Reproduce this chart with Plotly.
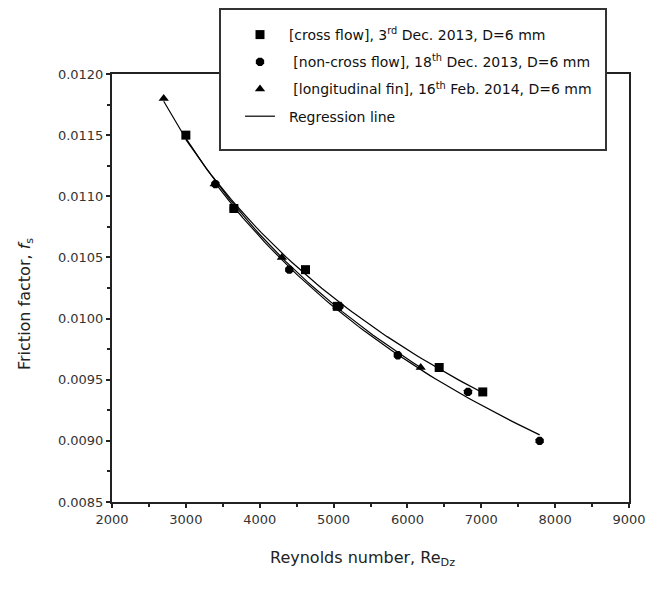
import numpy as np
import plotly.graph_objects as go

# Friction factor measurements, D = 6 mm
re_cross = [3000, 3650, 4620, 5050, 6430, 7020]
f_cross = [0.0115, 0.0109, 0.0104, 0.0101, 0.0096, 0.0094]

re_noncross = [3400, 3650, 4400, 5080, 5870, 6820, 7790]
f_noncross = [0.0111, 0.0109, 0.0104, 0.0101, 0.0097, 0.0094, 0.0090]

re_fin = [2700, 3390, 4300, 5050, 6180]
f_fin = [0.0118, 0.0111, 0.0105, 0.0101, 0.0096]

NB = "\u00a0"
names = [
    NB * 2 + "[cross flow], 3<sup>rd</sup> Dec. 2013, D=6 mm",
    NB * 3 + "[non-cross flow], 18<sup>th</sup> Dec. 2013, D=6 mm",
    NB * 3 + "[longitudinal fin], 16<sup>th</sup> Feb. 2014, D=6 mm",
]
reg_name = NB * 2 + "Regression line"
symbols = ["square", "octagon", "triangle-up"]

series = [(re_cross, f_cross), (re_noncross, f_noncross), (re_fin, f_fin)]

FONT = "DejaVu Sans, Liberation Sans, Arial, sans-serif"

fig = go.Figure()

# power-law regression f = a * Re^b for each data set
for i, (x, y) in enumerate(series):
    b, la = np.polyfit(np.log(x), np.log(y), 1)
    xs = np.linspace(min(x), max(x), 60)
    fig.add_trace(go.Scatter(
        x=xs, y=np.exp(la) * xs ** b, mode="lines",
        line=dict(color="black", width=1.2),
        name=reg_name, showlegend=(i == 0),
        legendgroup="reg", legendrank=4, hoverinfo="skip"))

for i, (x, y) in enumerate(series):
    fig.add_trace(go.Scatter(
        x=x, y=y, mode="markers", name=names[i],
        marker=dict(symbol=symbols[i], size=9, color="black"),
        legendgroup="g%d" % i, legendrank=i + 1))

# plot area spans 112..629 px horizontally, 74..502 px vertically
def px(xp):
    return (xp - 112) / 517


def py(yp):
    return (502 - yp) / 428


fig.update_layout(
    width=649, height=589,
    margin=dict(l=112, r=20, t=74, b=87, autoexpand=False),
    paper_bgcolor="white", plot_bgcolor="white",
    font=dict(family=FONT, color="#222"),
    showlegend=True,
    legend=dict(
        x=px(240), y=py(19), xanchor="left", yanchor="top",
        bgcolor="rgba(0,0,0,0)", borderwidth=0,
        font=dict(family=FONT, size=14, color="#111"),
        tracegroupgap=6, itemwidth=30,
    ),
    shapes=[dict(
        type="rect", xref="paper", yref="paper",
        x0=px(220), x1=px(606), y0=py(150), y1=py(9),
        fillcolor="white", line=dict(color="#333", width=2), layer="above",
    )],
    annotations=[
        dict(text="Reynolds number, Re<sub>Dz</sub>", xref="paper", yref="paper",
             x=px(362), y=py(558), showarrow=False, xanchor="center", yanchor="middle",
             font=dict(family=FONT, size=16, color="#222")),
        dict(text="Friction factor, <i>f</i><sub>s</sub>", xref="paper", yref="paper",
             x=px(25), y=py(304), showarrow=False, xanchor="center", yanchor="middle",
             textangle=-90, font=dict(family=FONT, size=16, color="#222")),
    ],
)

fig.update_xaxes(
    range=[2000, 9000], dtick=1000, tickformat="d",
    showline=True, linecolor="#222", linewidth=2, mirror=True,
    ticks="outside", ticklen=4, tickwidth=1.5, tickcolor="#222",
    minor=dict(dtick=500, ticks="outside", ticklen=3, tickcolor="#222"),
    showgrid=False, zeroline=False,
    tickfont=dict(family=FONT, size=13, color="#333"),
)
fig.update_yaxes(
    range=[0.0085, 0.0120], dtick=0.0005, tickformat=".4f",
    showline=True, linecolor="#222", linewidth=2, mirror=True,
    ticks="outside", ticklen=4, tickwidth=1.5, tickcolor="#222",
    minor=dict(dtick=0.00025, ticks="outside", ticklen=3, tickcolor="#222"),
    showgrid=False, zeroline=False,
    tickfont=dict(family=FONT, size=13, color="#333"),
)

fig.write_html("out.html")
